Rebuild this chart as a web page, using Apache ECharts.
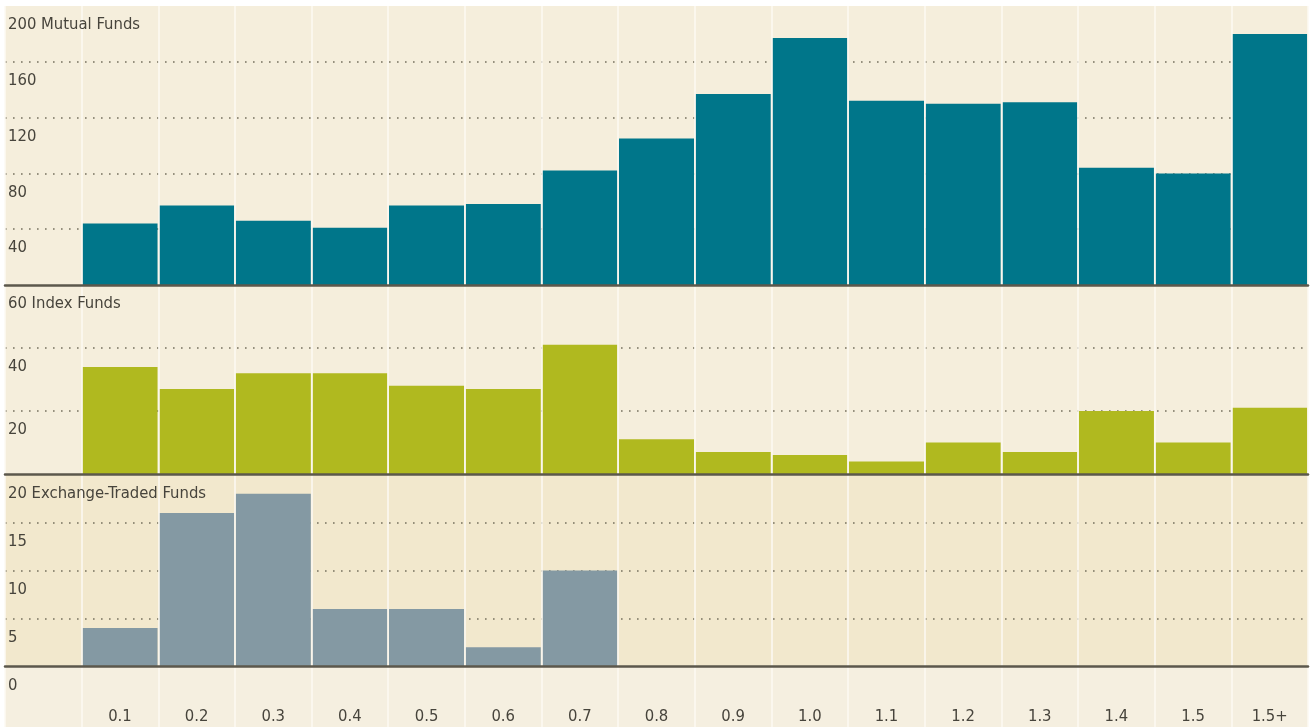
<!DOCTYPE html>
<html>
<head>
<meta charset="utf-8">
<script src="https://cdn.jsdelivr.net/npm/echarts@6/dist/echarts.min.js"></script>
<style>
html,body{margin:0;padding:0;background:#ffffff;}
#chart{width:1314px;height:727px;}
</style>
</head>
<body>
<div id="chart"></div>
<script>
// ---- data ----
var categories = ['0.1','0.2','0.3','0.4','0.5','0.6','0.7','0.8','0.9','1.0','1.1','1.2','1.3','1.4','1.5','1.5+'];
var mutualFunds = [44, 57, 46, 41, 57, 58, 82, 105, 137, 177, 132, 130, 131, 84, 80, 180];
var indexFunds  = [34, 27, 32, 32, 28, 27, 41, 11, 7, 6, 4, 10, 7, 20, 10, 21];
var etfFunds    = [4, 16, 18, 6, 6, 2, 10, 0, 0, 0, 0, 0, 0, 0, 0, 0];
var panelNames  = ['Mutual Funds', 'Index Funds', 'Exchange-Traded Funds'];
var panelMax    = [200, 60, 20];
var panelStep   = [40, 20, 5];

// ---- styling ----
var FONT = "'DejaVu Sans Condensed', 'Liberation Sans Narrow', 'Roboto', sans-serif";
var TEXT = '#47443c';
var FS = 16.5;
var colors = ['#00768a', '#b0b91f', '#8499a3'];
var bgs = ['#f5eedc', '#f5eedc', '#f2e8cd'];
var axisCats = [''].concat(categories);
var pad = function (arr) { return [null].concat(arr); };
var seriesData = [mutualFunds, indexFunds, etfFunds];

var gridsPos = [
  {top: 6, height: 279},
  {top: 285, height: 189},
  {top: 474.5, height: 192},
  {top: 666.5, height: 61}
];

var grids = [], xAxes = [], yAxes = [], series = [];
gridsPos.forEach(function (g, i) {
  grids.push({
    left: 5, right: 6, top: g.top, height: g.height,
    show: true, borderWidth: 0,
    backgroundColor: i < 3 ? bgs[i] : '#f5efe0'
  });
  xAxes.push({
    type: 'category', gridIndex: i, data: axisCats,
    boundaryGap: true,
    axisTick: {show: false},
    axisLine: {show: i < 3, lineStyle: {color: '#5c584c', width: 2.5}},
    axisLabel: i < 3 ? {show: false} : {
      show: true, inside: true, margin: 2,
      color: TEXT, fontFamily: FONT, fontSize: FS,
      formatter: function (v) { return v; }
    },
    splitLine: {show: true, lineStyle: {color: '#fcfaf3', width: 1.5}},
    z: 3
  });
});

// per panel: one y axis for the dotted grid lines (under bars), one for labels (on top)
for (var idx = 0; idx < 3; idx++) {
  (function (k) {
    yAxes.push({
      type: 'value', gridIndex: k, position: 'left',
      min: 0, max: panelMax[k], interval: panelStep[k],
      axisLine: {show: false}, axisTick: {show: false}, axisLabel: {show: false},
      splitLine: {
        show: true, showMinLine: false, showMaxLine: false,
        lineStyle: {color: '#77715f', width: 1.6, type: [1.6, 6.4]}
      },
      z: 0
    });
  })(idx);
}
for (var idx2 = 0; idx2 < 3; idx2++) {
  (function (k) {
    yAxes.push({
      type: 'value', gridIndex: k, position: 'left', offset: 0,
      min: 0, max: panelMax[k], interval: panelStep[k],
      axisLine: {show: false}, axisTick: {show: false}, splitLine: {show: false},
      axisLabel: {
        inside: true, margin: 3, align: 'left', verticalAlign: 'top',
        padding: [10.5, 0, 0, 0],
        color: TEXT, fontFamily: FONT, fontSize: FS,
        formatter: function (v) {
          if (v === 0 && k < 2) { return ''; }
          return v === panelMax[k] ? v + ' ' + panelNames[k] : String(v);
        }
      },
      z: 10
    });
  })(idx2);
}
yAxes.push({type: 'value', gridIndex: 3, show: false});

for (var s = 0; s < 3; s++) {
  series.push({
    type: 'bar', name: panelNames[s], xAxisIndex: s, yAxisIndex: s,
    data: pad(seriesData[s]),
    barCategoryGap: '2%',
    itemStyle: {color: colors[s]},
    silent: true, z: 2
  });
}

var chart = echarts.init(document.getElementById('chart'), null, {renderer: 'canvas'});
chart.setOption({
  animation: false,
  backgroundColor: '#ffffff',
  grid: grids,
  xAxis: xAxes,
  yAxis: yAxes,
  series: series
});
</script>
</body>
</html>
